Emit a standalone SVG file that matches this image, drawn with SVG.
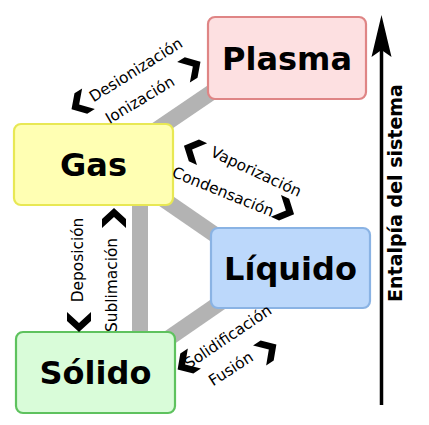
<svg xmlns="http://www.w3.org/2000/svg" width="429" height="425" viewBox="0 0 429 425">
<defs>
<style>
.box{stroke-width:2.2}
.title{font-family:"DejaVu Sans",sans-serif;font-weight:bold;font-size:32px;text-anchor:middle;fill:#000}
.lbl{font-family:"DejaVu Sans",sans-serif;font-size:15.4px;text-anchor:middle;fill:#000}
.bar{stroke:#b3b3b3;stroke-width:16;fill:none}
.chev{fill:#000}
</style>
<path id="chev" d="M-1,-12 L10,0 L-1,12 L-10,12 L1,0 L-10,-12 Z"/>
</defs>
<rect width="429" height="425" fill="#fff"/>
<g id="connectors">
<line class="bar" x1="140" y1="141" x2="240" y2="73"/>
<line class="bar" x1="150" y1="190" x2="240" y2="252"/>
<line class="bar" x1="140" y1="200" x2="140" y2="336"/>
<line class="bar" x1="140" y1="358" x2="240" y2="289"/>
</g>
<g id="plasma">
<rect class="box" x="208" y="17" width="158" height="82" rx="7" fill="#fde0e1" stroke="#df8585"/>
<text class="title" x="287" y="70">Plasma</text>
</g>
<g id="gas">
<rect class="box" x="14" y="124" width="159" height="81" rx="7" fill="#ffffb3" stroke="#e8e854"/>
<text class="title" x="93.5" y="176">Gas</text>
</g>
<g id="liquido">
<rect class="box" x="211" y="228" width="159" height="80" rx="7" fill="#bcd8fb" stroke="#8ab3e4"/>
<text class="title" x="290.5" y="279.5">Líquido</text>
</g>
<g id="solido">
<rect class="box" x="16" y="332" width="159" height="81" rx="7" fill="#d9fcd9" stroke="#5ec25e"/>
<text class="title" x="95.5" y="384">Sólido</text>
</g>
<g id="labels">
<text class="lbl" transform="translate(136,70) rotate(-32)" y="5">Desionización</text>
<text class="lbl" transform="translate(140,100) rotate(-31)" y="5">Ionización</text>
<text class="lbl" transform="translate(256,172) rotate(25)" y="5">Vaporización</text>
<text class="lbl" transform="translate(223,192) rotate(22)" y="5">Condensación</text>
<text class="lbl" transform="translate(78,260) rotate(-90)" y="5">Deposición</text>
<text class="lbl" transform="translate(112,285) rotate(-90)" y="5">Sublimación</text>
<text class="lbl" transform="translate(228,337) rotate(-34)" y="5">Solidificación</text>
<text class="lbl" transform="translate(231,369) rotate(-33)" y="5">Fusión</text>
</g>
<g id="chevrons">
<use href="#chev" class="chev" transform="translate(80,104) rotate(148)"/>
<use href="#chev" class="chev" transform="translate(192,67) rotate(-32)"/>
<use href="#chev" class="chev" transform="translate(193,150) rotate(205)"/>
<use href="#chev" class="chev" transform="translate(285,210) rotate(25)"/>
<use href="#chev" class="chev" transform="translate(114,218) rotate(-90)"/>
<use href="#chev" class="chev" transform="translate(79,322) rotate(90)"/>
<use href="#chev" class="chev" transform="translate(186,364) rotate(147)"/>
<use href="#chev" class="chev" transform="translate(268,350) rotate(-33)"/>
</g>
<g id="enthalpy-axis">
<line x1="381.5" y1="405" x2="381.5" y2="50" stroke="#000" stroke-width="3.5"/>
<path d="M381.5,15 L391.5,57 L381.5,50 L371.5,57 Z" fill="#000"/>
<text transform="translate(395,193) rotate(-90)" y="7" font-family="DejaVu Sans, sans-serif" font-weight="bold" font-size="19" text-anchor="middle">Entalpía del sistema</text>
</g>
</svg>
